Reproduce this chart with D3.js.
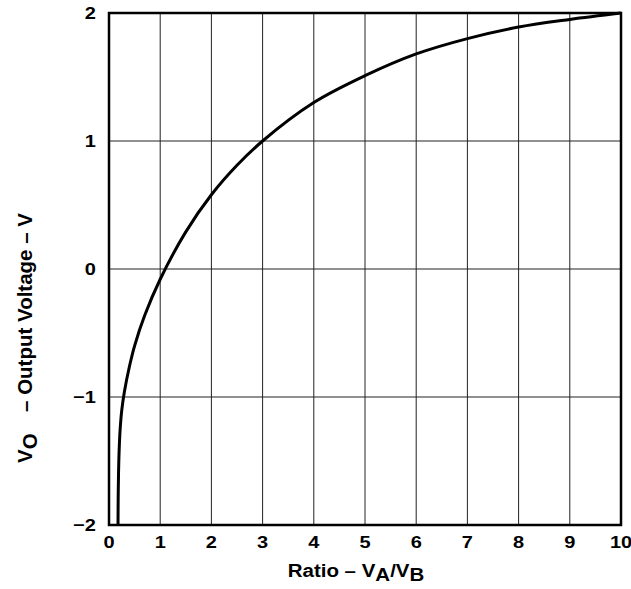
<!DOCTYPE html>
<html>
<head>
<meta charset="utf-8">
<script src="https://cdn.jsdelivr.net/npm/d3@7"></script>
<style>
body { margin: 0; background: #fff; }
text { font-family: "Liberation Sans", Arial, sans-serif; font-weight: bold; }
</style>
</head>
<body>
<svg width="631" height="589"></svg>
<script>
// curve
var ratio = [0.176, 0.179, 0.186, 0.198, 0.218, 0.25, 0.3, 0.4, 0.5, 0.7, 1.0, 1.5, 2, 2.5, 3, 4, 5, 6, 7, 8, 9, 10];
var vout  = [-2.0, -1.8, -1.6, -1.42, -1.25, -1.1, -0.96, -0.76, -0.6, -0.36, -0.08, 0.29, 0.58, 0.81, 1.0, 1.30, 1.51, 1.68, 1.80, 1.89, 1.95, 2.0];
var xTicks = [0, 1, 2, 3, 4, 5, 6, 7, 8, 9, 10];
var yTicks = [-2, -1, 0, 1, 2];
var yTickLabels = ["\u22122", "\u22121", "0", "1", "2"];

var svg = d3.select("svg");
var marginLeft = 109, marginTop = 13, width = 512, height = 512;

var x = d3.scaleLinear().domain([0, 10]).range([0, width]);
var y = d3.scaleLinear().domain([-2, 2]).range([height, 0]);

var g = svg.append("g").attr("transform", "translate(" + marginLeft + "," + marginTop + ")");

// grid
g.selectAll(".vgrid").data(xTicks).enter().append("line")
  .attr("x1", function(d) { return x(d); })
  .attr("x2", function(d) { return x(d); })
  .attr("y1", 0).attr("y2", height)
  .attr("stroke", "#222").attr("stroke-width", 1);

g.selectAll(".hgrid").data(yTicks).enter().append("line")
  .attr("y1", function(d) { return y(d); })
  .attr("y2", function(d) { return y(d); })
  .attr("x1", 0).attr("x2", width)
  .attr("stroke", "#222").attr("stroke-width", 1);

// frame
g.append("rect")
  .attr("width", width).attr("height", height)
  .attr("fill", "none").attr("stroke", "#000").attr("stroke-width", 2.5);

// tick labels (the source is a little squashed vertically)
g.selectAll(".xl").data(xTicks).enter().append("text")
  .attr("transform", function(d) { return "translate(" + x(d) + "," + (height + 23) + ") scale(1,0.85)"; })
  .attr("text-anchor", "middle")
  .attr("font-size", "20px")
  .text(function(d) { return d; });

g.selectAll(".yl").data(yTicks).enter().append("text")
  .attr("transform", function(d) { return "translate(-13," + (y(d) + 6) + ") scale(1,0.85)"; })
  .attr("text-anchor", "end")
  .attr("font-size", "20px")
  .text(function(d, i) { return yTickLabels[i]; });

// curve
var pts = ratio.map(function(r, i) { return [r, vout[i]]; });
var line = d3.line()
  .x(function(d) { return x(d[0]); })
  .y(function(d) { return y(d[1]); })
  .curve(d3.curveCatmullRom.alpha(0.5));

g.append("path")
  .datum(pts)
  .attr("d", line)
  .attr("fill", "none")
  .attr("stroke", "#000")
  .attr("stroke-width", 3);

// axis titles
var xt = svg.append("text")
  .attr("transform", "translate(356,577) scale(1,0.88)")
  .attr("text-anchor", "middle")
  .attr("font-size", "20.5px");
xt.append("tspan").text("Ratio \u2013 V");
xt.append("tspan").attr("dy", 5).text("A");
xt.append("tspan").attr("dy", -5).text("/V");
xt.append("tspan").attr("dy", 5).text("B");

var yt = svg.append("text")
  .attr("transform", "translate(32,463) rotate(-90)")
  .attr("text-anchor", "start")
  .attr("font-size", "20.5px")
  .attr("xml:space", "preserve");
yt.append("tspan").text("V");
yt.append("tspan").attr("dy", 5).text("O");
yt.append("tspan").attr("dy", -5).attr("dx", 10).text("  \u2013 Output Voltage \u2013 V");
</script>
</body>
</html>
